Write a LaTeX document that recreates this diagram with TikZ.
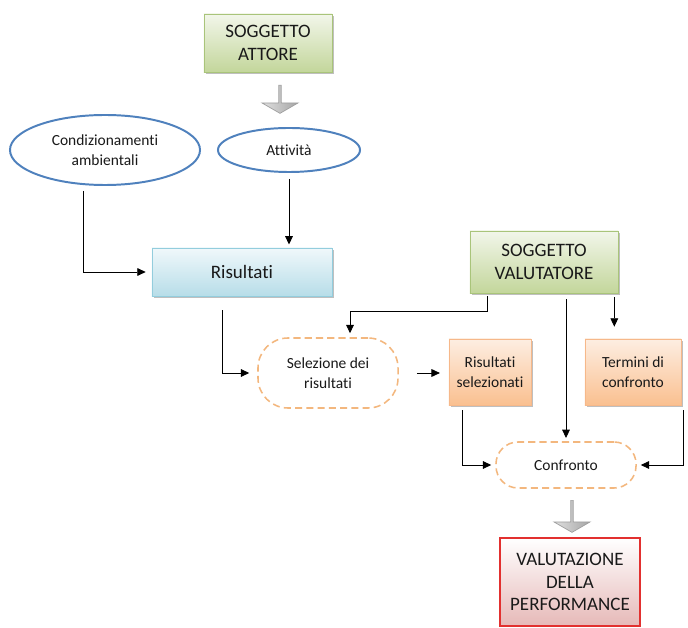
\documentclass[tikz,border=0pt]{standalone}
\usepackage{fontspec}
\setmainfont{Carlito}[Ligatures=NoCommon]
\usepackage{tikz}
\usetikzlibrary{shapes.geometric,shapes.arrows,arrows.meta,shadows}
\definecolor{subjGreen}{HTML}{C3D69B}
\definecolor{subjGreenTop}{HTML}{F2F6EA}
\definecolor{subjGreenLine}{HTML}{A9C47A}
\definecolor{resBlue}{HTML}{B7DDE8}
\definecolor{resBlueTop}{HTML}{F0F8FB}
\definecolor{resBlueLine}{HTML}{93CDDD}
\definecolor{selOrange}{HTML}{FAC090}
\definecolor{selOrangeTop}{HTML}{FDEEE2}
\definecolor{selOrangeLine}{HTML}{F6B88A}
\definecolor{dashOrange}{HTML}{F3B77E}
\definecolor{ellBlue}{HTML}{4F81BD}
\definecolor{perfRed}{HTML}{E2302F}
\definecolor{perfPink}{HTML}{E6B9B8}

\begin{document}
\begin{tikzpicture}[
    x=0.025cm, y=-0.025cm,
    bigtext/.style={font=\fontsize{13.5}{16}\selectfont, text=black!90},
    smalltext/.style={font=\fontsize{11}{14}\selectfont, text=black!90},
    shade box/.style={rectangle, align=center, inner sep=2pt,
        drop shadow={shadow xshift=1.5pt, shadow yshift=-1.5pt, fill=black, opacity=0.25}},
    subject/.style={shade box, bigtext, draw=subjGreenLine, top color=subjGreenTop, bottom color=subjGreen},
    result/.style={shade box, bigtext, draw=resBlueLine, top color=resBlueTop, bottom color=resBlue},
    outcome/.style={shade box, smalltext, draw=selOrangeLine, top color=selOrangeTop, bottom color=selOrange},
    cloud/.style={ellipse, smalltext, align=center, draw=ellBlue, line width=1.4pt, fill=white, inner sep=0pt},
    process/.style={rectangle, smalltext, align=center, draw=dashOrange, line width=1.1pt,
        dash pattern=on 5pt off 3pt, fill=white},
    bigarrow/.style={single arrow, rotate=-90, draw=gray!75, line width=0.5pt, left color=gray!25, right color=gray!70,
        minimum width=0.9cm, single arrow head extend=0.12cm, single arrow tip angle=120, inner sep=0pt},
    conn/.style={-{Triangle[length=6pt,width=5.5pt]}, line width=0.6pt}
]
    \useasboundingbox (0,0) rectangle (688,628);

    % soggetto attore e attivita
    \node[subject, minimum width=3.2cm, minimum height=1.45cm] (actor) at (268,43) {SOGGETTO\\ATTORE};
    \node[bigarrow, minimum height=0.7cm] (down1) at (280,99) {};
    \node[cloud, minimum width=4.75cm, minimum height=1.75cm] (cond) at (105,150) {Condizionamenti\\ambientali};
    \node[cloud, minimum width=3.55cm, minimum height=1.1cm] (act) at (289,150) {Attività};
    \node[result, minimum width=4.5cm, minimum height=1.2cm] (res) at (242,272) {Risultati};

    % soggetto valutatore
    \node[subject, minimum width=3.7cm, minimum height=1.55cm] (eval) at (544,262) {SOGGETTO\\VALUTATORE};
    \node[process, rounded corners=0.75cm, minimum width=3.5cm, minimum height=1.75cm] (sel) at (328,373) {Selezione dei\\risultati};
    \node[outcome, minimum width=2.05cm, minimum height=1.65cm] (ressel) at (490,372) {Risultati\\selezionati};
    \node[outcome, minimum width=2.4cm, minimum height=1.65cm] (terms) at (633,372) {Termini di\\confronto};
    \node[process, rounded corners=0.55cm, minimum width=3.5cm, minimum height=1.15cm] (comp) at (566,465) {Confronto};
    \node[bigarrow, minimum height=0.8cm] (down2) at (572,516) {};
    \node[rectangle, bigtext, align=center, draw=perfRed, line width=1.6pt, top color=white, bottom color=perfPink,
        minimum width=3.5cm, minimum height=2.2cm] (perf) at (570,582) {VALUTAZIONE\\DELLA\\PERFORMANCE};

    % collegamenti
    \draw[conn, shorten <=0.15cm, shorten >=0.08cm] (act.south) -- (act.south |- res.north);
    \draw[conn, shorten <=0.12cm, shorten >=0.15cm] ([xshift=-0.55cm]cond.south) |- (res.west);
    \draw[conn, shorten <=0.35cm, shorten >=0.2cm] ([xshift=-0.5cm]res.south) |- (sel.west);
    \draw[conn, shorten >=0.1cm] ([xshift=0.45cm, yshift=-0.08cm]eval.south west) -- ++(0,15) -| ([xshift=0.55cm]sel.north);
    \draw[conn, shorten <=0.45cm, shorten >=0.22cm] (sel.east) -- (sel.east -| ressel.west);
    \draw[conn, shorten <=0.1cm, shorten >=0.3cm] ([xshift=-0.1cm]eval.south east) -- ([xshift=-0.1cm]eval.south east |- terms.north);
    \draw[conn, shorten <=0.15cm, shorten >=0.08cm] (eval.south -| comp.north) -- (comp.north);
    \draw[conn, shorten <=0.12cm, shorten >=0.1cm] ([xshift=0.35cm]ressel.south west) |- (comp.west);
    \draw[conn, shorten <=0.12cm, shorten >=0.1cm] ([xshift=0.05cm]terms.south east) |- (comp.east);
\end{tikzpicture}
\end{document}
